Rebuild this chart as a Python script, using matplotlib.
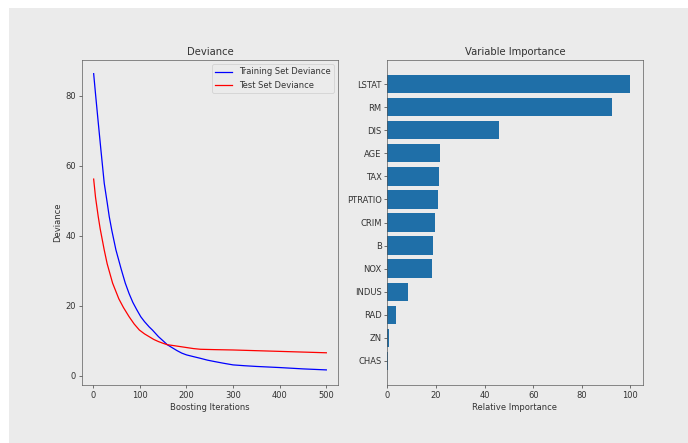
import numpy as np
import matplotlib.pyplot as plt
from matplotlib.patches import Rectangle

# values
train_iter = [1, 5, 10, 16.5, 23.7, 30, 34.4, 40, 48.7, 60, 68.8, 77, 85, 93, 102, 110, 120,
              127, 140, 150, 159, 170, 180, 190, 200, 215, 229, 245, 260, 280, 300, 325,
              350, 400, 450, 500]
train_dev = [86.3, 80.5, 73.5, 64.6, 55, 49.5, 45.5, 41.5, 36, 30.5, 26.5, 23.5, 21, 19, 16.9,
             15.5, 14, 13.1, 11.2, 10, 8.9, 8, 7.2, 6.5, 6.0, 5.5, 5.05, 4.5, 4.1, 3.6, 3.14,
             2.9, 2.7, 2.38, 2.0, 1.71]

test_iter = [1, 5, 10.8, 15, 23.6, 30, 41.6, 55, 65, 77, 88, 99, 110, 120, 130, 140, 150,
             159, 170, 180, 200, 215, 230, 260, 300, 350, 400, 450, 500]
test_dev = [56.2, 51, 45.5, 42, 36, 32, 26.5, 22, 19.5, 16.9, 14.8, 13.1, 12, 11.2, 10.4, 9.8,
            9.3, 8.9, 8.7, 8.5, 8.1, 7.8, 7.6, 7.5, 7.4, 7.2, 7.0, 6.8, 6.6]

features = ['CHAS', 'ZN', 'RAD', 'INDUS', 'NOX', 'B', 'CRIM', 'PTRATIO', 'TAX', 'AGE',
            'DIS', 'RM', 'LSTAT']
importance = [0.1, 0.7, 3.5, 8.3, 18.3, 18.9, 19.4, 21.0, 21.3, 21.6, 45.8, 92.4, 100]

bg = '#ebebeb'
txt = '#333333'
plt.rcParams['text.color'] = txt
plt.rcParams['axes.labelcolor'] = txt
plt.rcParams['xtick.color'] = txt
plt.rcParams['ytick.color'] = txt
plt.rcParams['axes.edgecolor'] = '#555555'

W, H = 688, 443
fig = plt.figure(figsize=(W / 60, H / 60), facecolor='white')
fig.add_artist(Rectangle((9 / W, 0), 1, 1 - 8 / H, transform=fig.transFigure,
                         facecolor=bg, edgecolor='none', zorder=-10))

ax1 = fig.add_axes([82 / W, (H - 385) / H, 256 / W, 325 / H], facecolor=bg)
ax1.set_title('Deviance')
ax1.plot(train_iter, train_dev, 'b-', label='Training Set Deviance')
ax1.plot(test_iter, test_dev, 'r-', label='Test Set Deviance')
ax1.legend(loc='upper right', facecolor=bg)
ax1.set_xlabel('Boosting Iterations')
ax1.set_ylabel('Deviance')
ax1.set_xlim(-24, 525)
ax1.set_ylim(-2.6, 90.2)

ax2 = fig.add_axes([387.5 / W, (H - 385) / H, 255 / W, 325 / H], facecolor=bg)
pos = np.arange(len(features)) + .5
ax2.barh(pos, importance, align='center', color='#1f6fa8')
ax2.set_yticks(pos)
ax2.set_yticklabels(features)
ax2.set_xlabel('Relative Importance')
ax2.set_title('Variable Importance')

fig.savefig('out.png', dpi=60, facecolor='white')
